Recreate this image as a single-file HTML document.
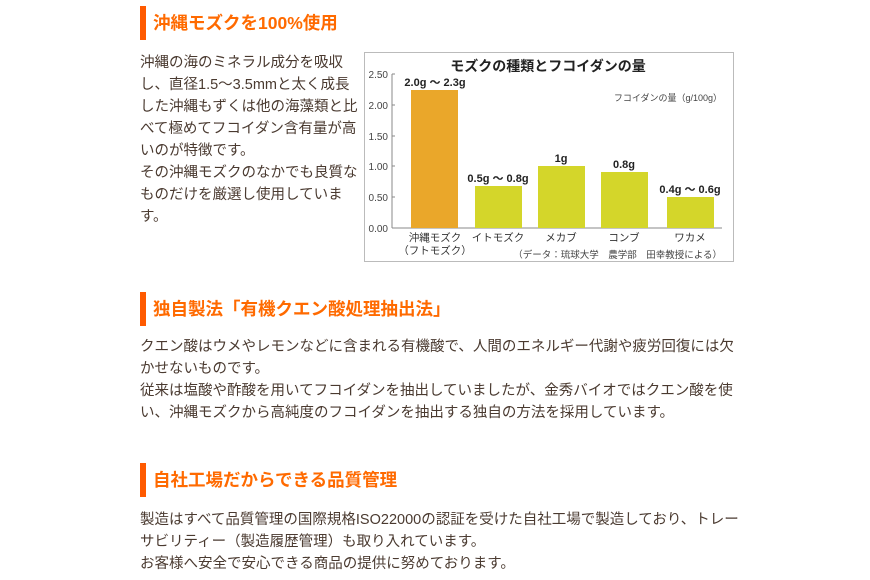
<!DOCTYPE html>
<html><head><meta charset="utf-8"><style>
body{margin:0;width:870px;height:580px;background:#fff;position:relative;overflow:hidden;font-family:"Liberation Sans","Noto Sans CJK JP",sans-serif;}
.h{position:absolute;left:140px;height:34px;border-left:6px solid #ff5a00;padding-left:7px;color:#ff6a00;font-weight:bold;font-size:17.5px;line-height:34px;white-space:nowrap}
.p{position:absolute;left:140px;color:#4a3a30;font-size:14.5px;line-height:22px;white-space:nowrap}
svg text{font-family:"Liberation Sans","Noto Sans CJK JP",sans-serif}
</style></head><body>
<div class="h" style="top:6px">沖縄モズクを100%使用</div>
<div class="p" style="top:52px">沖縄の海のミネラル成分を吸収<br>し、直径1.5～3.5mmと太く成長<br>した沖縄もずくは他の海藻類と比<br>べて極めてフコイダン含有量が高<br>いのが特徴です。<br>その沖縄モズクのなかでも良質な<br>ものだけを厳選し使用していま<br>す。</div>
<svg style="position:absolute;left:0;top:0" width="870" height="300">
<rect x="364.5" y="52.5" width="369" height="209" fill="#fff" stroke="#bbb" stroke-width="1"/>
<text x="548" y="71" text-anchor="middle" font-size="14" font-weight="bold" fill="#222">モズクの種類とフコイダンの量</text>
<line x1="392" y1="74" x2="392" y2="228" stroke="#888"/>
<line x1="392" y1="228" x2="722" y2="228" stroke="#888"/>
<g font-size="10" fill="#444" text-anchor="end">
<text x="388" y="78">2.50</text><text x="388" y="109">2.00</text><text x="388" y="140">1.50</text><text x="388" y="170">1.00</text><text x="388" y="201">0.50</text><text x="388" y="232">0.00</text>
</g>
<g stroke="#888"><line x1="392" y1="74" x2="395" y2="74"/><line x1="392" y1="105" x2="395" y2="105"/><line x1="392" y1="136" x2="395" y2="136"/><line x1="392" y1="166" x2="395" y2="166"/><line x1="392" y1="197" x2="395" y2="197"/></g>
<rect x="411" y="90" width="47" height="138" fill="#eaa72a"/>
<rect x="475" y="186" width="47" height="42" fill="#d4d62a"/>
<rect x="538" y="166" width="47" height="62" fill="#d4d62a"/>
<rect x="601" y="172" width="47" height="56" fill="#d4d62a"/>
<rect x="667" y="197" width="47" height="31" fill="#d4d62a"/>
<g font-size="11" font-weight="bold" fill="#222" text-anchor="middle">
<text x="435" y="86">2.0g ～ 2.3g</text><text x="498" y="182">0.5g ～ 0.8g</text><text x="561" y="162">1g</text><text x="624" y="168">0.8g</text><text x="690" y="193">0.4g ～ 0.6g</text>
</g>
<text x="722" y="101" font-size="9" fill="#444" text-anchor="end">フコイダンの量（g/100g）</text>
<g font-size="10.5" fill="#333" text-anchor="middle">
<text x="435" y="241">沖縄モズク</text><text x="435" y="254">（フトモズク）</text><text x="498" y="241">イトモズク</text><text x="561" y="241">メカブ</text><text x="624" y="241">コンブ</text><text x="690" y="241">ワカメ</text>
</g>
<text x="722" y="258" font-size="9.5" fill="#444" text-anchor="end">（データ：琉球大学　農学部　田幸教授による）</text>
</svg>
<div class="h" style="top:292px">独自製法「有機クエン酸処理抽出法」</div>
<div class="p" style="top:336px">クエン酸はウメやレモンなどに含まれる有機酸で、人間のエネルギー代謝や疲労回復には欠<br>かせないものです。<br>従来は塩酸や酢酸を用いてフコイダンを抽出していましたが、金秀バイオではクエン酸を使<br>い、沖縄モズクから高純度のフコイダンを抽出する独自の方法を採用しています。</div>
<div class="h" style="top:463px">自社工場だからできる品質管理</div>
<div class="p" style="top:509px">製造はすべて品質管理の国際規格ISO22000の認証を受けた自社工場で製造しており、トレー<br>サビリティー（製造履歴管理）も取り入れています。<br>お客様へ安全で安心できる商品の提供に努めております。</div>
</body></html>
